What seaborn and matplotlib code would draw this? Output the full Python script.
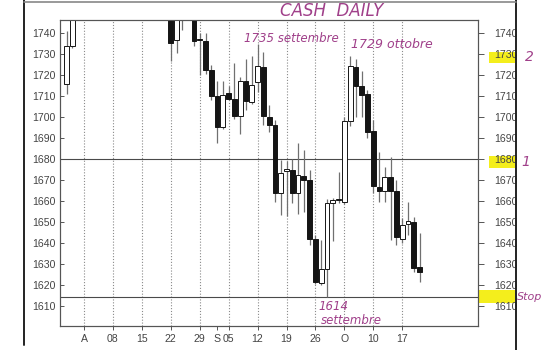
import numpy as np
import pandas as pd
import matplotlib
matplotlib.use("Agg")
import matplotlib.pyplot as plt
import seaborn as sns
from matplotlib.lines import Line2D
from matplotlib.patches import Rectangle

# ---------------- data ----------------
dates = ["2011-07-27", "2011-07-28",
         "2011-08-22", "2011-08-23", "2011-08-24", "2011-08-26", "2011-08-29",
         "2011-08-30", "2011-08-31", "2011-09-01", "2011-09-02", "2011-09-05",
         "2011-09-06", "2011-09-07", "2011-09-08", "2011-09-09", "2011-09-12",
         "2011-09-13", "2011-09-14", "2011-09-15", "2011-09-16", "2011-09-19",
         "2011-09-20", "2011-09-21", "2011-09-22", "2011-09-23", "2011-09-26",
         "2011-09-27", "2011-09-28", "2011-09-29", "2011-09-30", "2011-10-03",
         "2011-10-04", "2011-10-05", "2011-10-06", "2011-10-07", "2011-10-10",
         "2011-10-11", "2011-10-12", "2011-10-13", "2011-10-14", "2011-10-17",
         "2011-10-18", "2011-10-19", "2011-10-20"]
opens = [1716, 1734,
         1755, 1737, 1750, 1752, 1737.3,
         1736.4, 1722.5, 1710.2, 1695.5, 1711.4,
         1708.6, 1700.6, 1717.3, 1707.4, 1716.7,
         1723.7, 1700.3, 1696.3, 1663.7, 1674.5,
         1674.8, 1663.7, 1672.0, 1670.2, 1642.0,
         1620.8, 1627.6, 1659.0, 1660.4, 1659.5,
         1698.0, 1724.1, 1714.9, 1711.0, 1693.4,
         1666.9, 1665.0, 1671.7, 1665.0, 1641.8,
         1649.1, 1650.2, 1628.8]
highs = [1741, 1765,
         1760, 1760, 1758, 1758, 1740,
         1740, 1725, 1717, 1717, 1715,
         1726, 1719.3, 1727.5, 1729, 1735,
         1731, 1706, 1698.5, 1679.6, 1679,
         1680, 1687.5, 1684.4, 1674.8, 1644,
         1641.5, 1661, 1661.5, 1674, 1700.3,
         1729, 1727.5, 1722, 1713, 1698.7,
         1683.6, 1676.4, 1681.2, 1670, 1652,
         1659.7, 1652.6, 1645]
lows = [1711, 1733,
        1727, 1730.5, 1741.5, 1733.8, 1720,
        1720.5, 1708, 1687.5, 1694.5, 1708,
        1699, 1692, 1703.5, 1706.5, 1712,
        1696.3, 1693, 1659.5, 1653.5, 1653,
        1659, 1654, 1655, 1639, 1620.5,
        1620, 1614.4, 1640.8, 1659, 1658.5,
        1696, 1700.3, 1700, 1690, 1664,
        1659.7, 1659.7, 1641.5, 1639, 1640,
        1644, 1626.4, 1621.6]
closes = [1734, 1758,
          1735.5, 1752, 1755, 1736.3, 1736.6,
          1722.5, 1710.2, 1695.5, 1710.6, 1708.6,
          1700.6, 1717.2, 1707.5, 1715.4, 1724.4,
          1700.6, 1696.3, 1663.7, 1673.3, 1675.0,
          1663.7, 1672.5, 1670.2, 1642.0, 1621.5,
          1627.6, 1659.0, 1660.3, 1661.0, 1698.0,
          1724.6, 1714.9, 1710.6, 1692.8, 1667.0,
          1665.0, 1671.7, 1665.0, 1642.8, 1648.8,
          1650.6, 1628.0, 1626.0]

week_dates = ["2011-08-01", "2011-08-08", "2011-08-15", "2011-08-22", "2011-08-29",
              "2011-09-05", "2011-09-12", "2011-09-19", "2011-09-26",
              "2011-10-03", "2011-10-10", "2011-10-17"]
week_labels = ["A", "08", "15", "22", "29", "05", "12", "19", "26", "O", "10", "17"]
month_dates = ["2011-09-01"]
month_labels = ["S"]
y_ticks = list(range(1610, 1741, 10))
level_lines = [1680, 1614.4]

origin = "2011-08-01"

# ---------------- styling ----------------
sns.set_theme(style="white")
plt.rcParams["font.family"] = ["Liberation Sans", "DejaVu Sans"]

W, H = 550, 350
fig = plt.figure(figsize=(5.5, 3.5), dpi=100)
fig.patch.set_facecolor("white")
ax = fig.add_axes([60 / W, 24 / H, 418 / W, 306 / H])

df = pd.DataFrame({"date": dates, "open": opens, "high": highs,
                   "low": lows, "close": closes})
df["pos"] = np.busday_count(origin, df["date"].values.astype("datetime64[D]"))
df["up"] = df["close"] >= df["open"]
df["bottom"] = df[["open", "close"]].min(axis=1)
df["height"] = (df["close"] - df["open"]).abs().clip(lower=0.7)

# wicks
ax.vlines(df["pos"], df["low"], df["high"], color="#707070", lw=0.9, zorder=2)
# bodies
ax.bar(df["pos"], df["height"], bottom=df["bottom"], width=0.82,
       color=np.where(df["up"], "white", "#151515"), edgecolor="#151515",
       linewidth=0.7, zorder=3)

for lv in level_lines:
    ax.axhline(lv, color="#4a4a4a", lw=0.8, zorder=1)

ax.set_xlim(-4.15, 68.1)
ax.set_ylim(1600.5, 1746.3)

lab_size = 7.6
lab_col = "#444444"
wpos = np.busday_count(origin, np.array(week_dates, dtype="datetime64[D]"))
mpos = np.busday_count(origin, np.array(month_dates, dtype="datetime64[D]"))
ax.set_xticks(wpos)
ax.set_xticklabels(week_labels)
ax.set_xticks(mpos, minor=True)
ax.set_xticklabels(month_labels, minor=True)
ax.xaxis.grid(True, which="major", linestyle=(0, (1, 1.6)), color="#8a8a8a", lw=0.8)
ax.tick_params(axis="x", which="both", direction="out", length=3, width=0.7,
               color="#555", bottom=True, pad=3, labelsize=lab_size, labelcolor=lab_col)

ax.set_yticks(y_ticks)
ax.tick_params(axis="y", direction="in", length=3, width=0.7, color="#555",
               left=True, pad=3, labelsize=lab_size, labelcolor=lab_col)
ax2 = ax.twinx()
ax2.set_ylim(ax.get_ylim())
ax2.set_yticks(y_ticks)
ax2.tick_params(axis="y", direction="out", length=4, width=0.7, color="#555",
                right=True, pad=8, labelsize=lab_size, labelcolor=lab_col)
ax2.grid(False)

for a in (ax, ax2):
    for s in a.spines.values():
        s.set_color("#555")
        s.set_linewidth(0.8)


def fx(x):
    return x / W


def fy(y):
    return 1 - y / H


# frame lines of the scanned page
fig.add_artist(Line2D([fx(24), fx(24)], [fy(0), fy(345)], transform=fig.transFigure,
                      color="#222", lw=1.4))
fig.add_artist(Line2D([fx(516), fx(516)], [fy(0), fy(350)], transform=fig.transFigure,
                      color="#222", lw=1.4))
fig.add_artist(Line2D([fx(24), fx(516)], [fy(1.5), fy(1.5)], transform=fig.transFigure,
                      color="#888", lw=1.2))

# yellow highlighter marks
yellow = "#f4ee1c"
for (x0, y0, x1, y1) in [(489, 52, 515, 63), (489, 156, 515, 168), (478, 290, 515, 303)]:
    fig.add_artist(Rectangle((fx(x0), fy(y1)), fx(x1) - fx(x0), fy(y0) - fy(y1),
                             transform=fig.transFigure, color=yellow, zorder=-1, lw=0))

# handwritten notes
ink = "#a0408a"
hand = dict(color=ink, family=["DejaVu Sans"], style="italic")
fig.text(fx(332), fy(11), "CASH  DAILY", ha="center", va="center", fontsize=12, **hand)
fig.text(fx(291), fy(38), "1735 settembre", ha="center", va="center", fontsize=8.5, **hand)
fig.text(fx(392), fy(45), "1729 ottobre", ha="center", va="center", fontsize=9, **hand)
fig.text(fx(333), fy(307), "1614", ha="center", va="center", fontsize=8.5, **hand)
fig.text(fx(351), fy(321), "settembre", ha="center", va="center", fontsize=8.5, **hand)
fig.text(fx(529), fy(57), "2", ha="center", va="center", fontsize=10, **hand)
fig.text(fx(526), fy(162), "1", ha="center", va="center", fontsize=10, **hand)
fig.text(fx(530), fy(297), "Stop", ha="center", va="center", fontsize=8, **hand)

fig.savefig("out.png", dpi=100, facecolor="white")
